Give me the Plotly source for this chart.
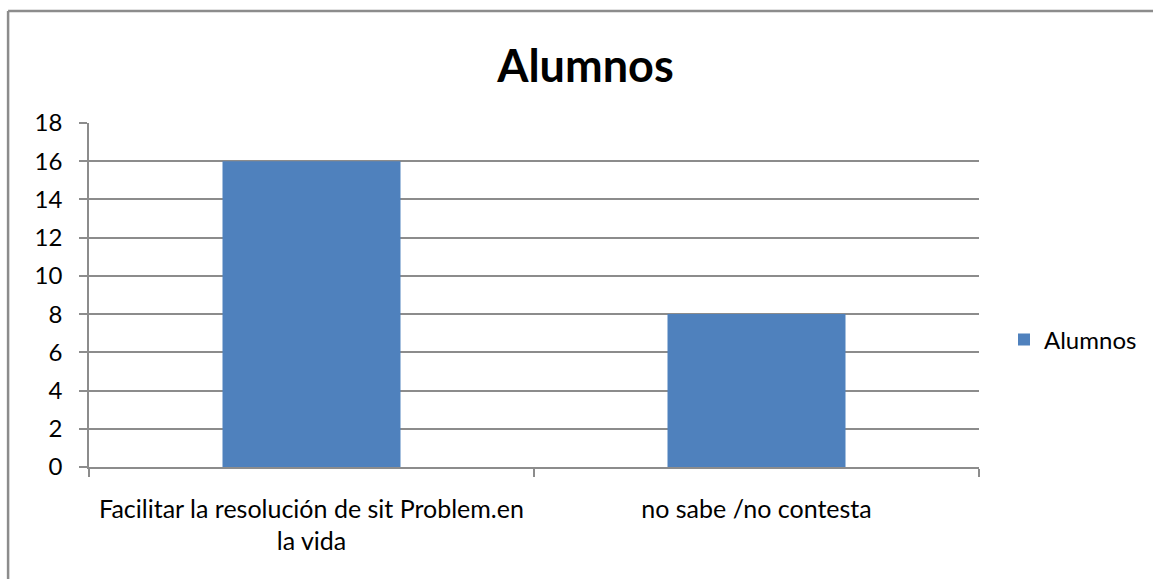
import plotly.graph_objects as go

categories = ["Facilitar la resolución de sit Problem.en<br>la vida", "no sabe /no contesta"]
values = [16, 8]
series_name = "Alumnos"
title_text = "Alumnos"
y_ticks = [0, 2, 4, 6, 8, 10, 12, 14, 16, 18]

FONT = "Lato"
GRID = "#8c8c8c"
FS = 24

fig = go.Figure()
fig.add_trace(go.Bar(
    x=categories, y=values, name=series_name,
    marker=dict(color="#4F81BD", line=dict(width=0)),
    width=0.4, showlegend=True,
))

L, R, T, B = 89, 980, 123, 467
W, H = 1153, 579
pw, ph = R - L, B - T

def px_x(x):
    return (x - L) / pw

def px_y(y):
    return (B - y) / ph

fig.update_layout(
    width=W, height=H,
    margin=dict(l=L, r=W - R, t=T, b=H - B, pad=0),
    paper_bgcolor="white", plot_bgcolor="white",
    font=dict(family=FONT, size=FS, color="black"),
    title=dict(text="<b>" + title_text + "</b>", x=px_x(586), xref="paper",
               y=1 - 66 / H, yref="container", xanchor="center", yanchor="middle",
               font=dict(size=45, family=FONT, color="black")),
    xaxis=dict(type="category", range=[-0.5, 1.5], showline=True, linecolor=GRID,
               linewidth=1.5, ticks="outside", tickson="boundaries", ticklen=8,
               tickcolor=GRID, tickwidth=1.5, showgrid=False,
               ticklabelstandoff=19,
               tickfont=dict(size=25, family=FONT)),
    yaxis=dict(range=[0, 18], tickvals=y_ticks, showline=True, linecolor=GRID,
               linewidth=1.5, ticks="outside", ticklen=8, tickcolor=GRID,
               tickwidth=1.5, showgrid=True, gridcolor=GRID, gridwidth=1.5,
               ticklabelstandoff=12,
               zeroline=False, tickfont=dict(size=FS, family=FONT)),
    legend=dict(x=px_x(1004), y=px_y(340), xanchor="left", yanchor="middle",
                font=dict(size=FS, family=FONT), itemwidth=30,
                bgcolor="rgba(0,0,0,0)"),
    bargap=0.6,
)

# outer chart border (top and left edges visible)
fig.add_shape(type="line", xref="paper", yref="paper",
              x0=px_x(8), x1=px_x(W + 5), y0=px_y(11), y1=px_y(11),
              line=dict(color="#8c8c8c", width=2.5))
fig.add_shape(type="line", xref="paper", yref="paper",
              x0=px_x(8), x1=px_x(8), y0=px_y(11), y1=px_y(H + 5),
              line=dict(color="#8c8c8c", width=2.5))

fig.write_html("out.html")
